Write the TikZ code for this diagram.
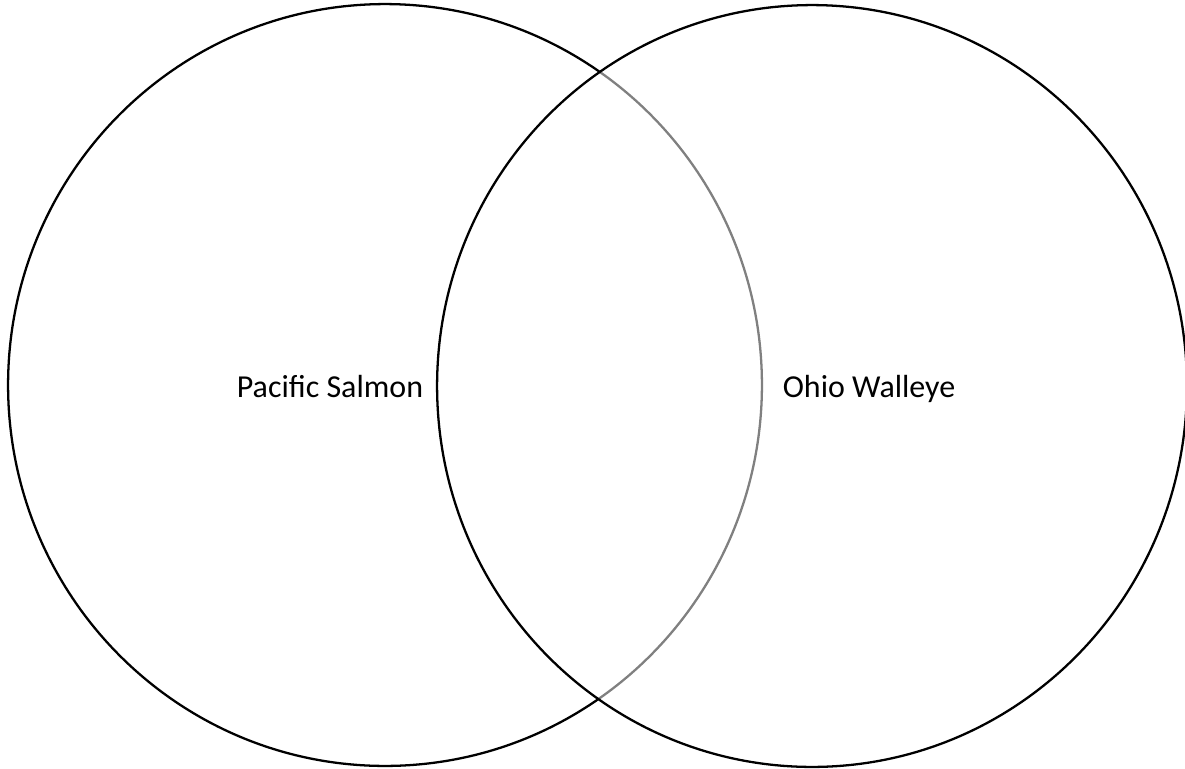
\documentclass[tikz,border=0pt]{standalone}
\usepackage{fontspec}
\setmainfont{Carlito}
\usetikzlibrary{positioning, shapes.geometric}

\begin{document}
\begin{tikzpicture}[
    x=0.02cm, y=-0.02cm,
    set/.style={ellipse, draw=black, line width=1.3pt, inner sep=0pt, outer sep=0pt},
    settext/.style={anchor=base, inner sep=0pt, font=\fontsize{18.2}{22}\selectfont}
  ]
    \clip (0,0) rectangle (1185,768);

    \node[set, minimum width=15.08cm, minimum height=15.24cm] (salmon) at (385,385) {};
    \node[set, minimum width=15.00cm, minimum height=15.24cm,
          fill=white, fill opacity=0.5, draw opacity=1] (walleye) at (812,386) {};

    \node[settext] (pac)  at (330,397) {Pacific Salmon};
    \node[settext] (ohio) at (869,397) {Ohio Walleye};
  \end{tikzpicture}
\end{document}
